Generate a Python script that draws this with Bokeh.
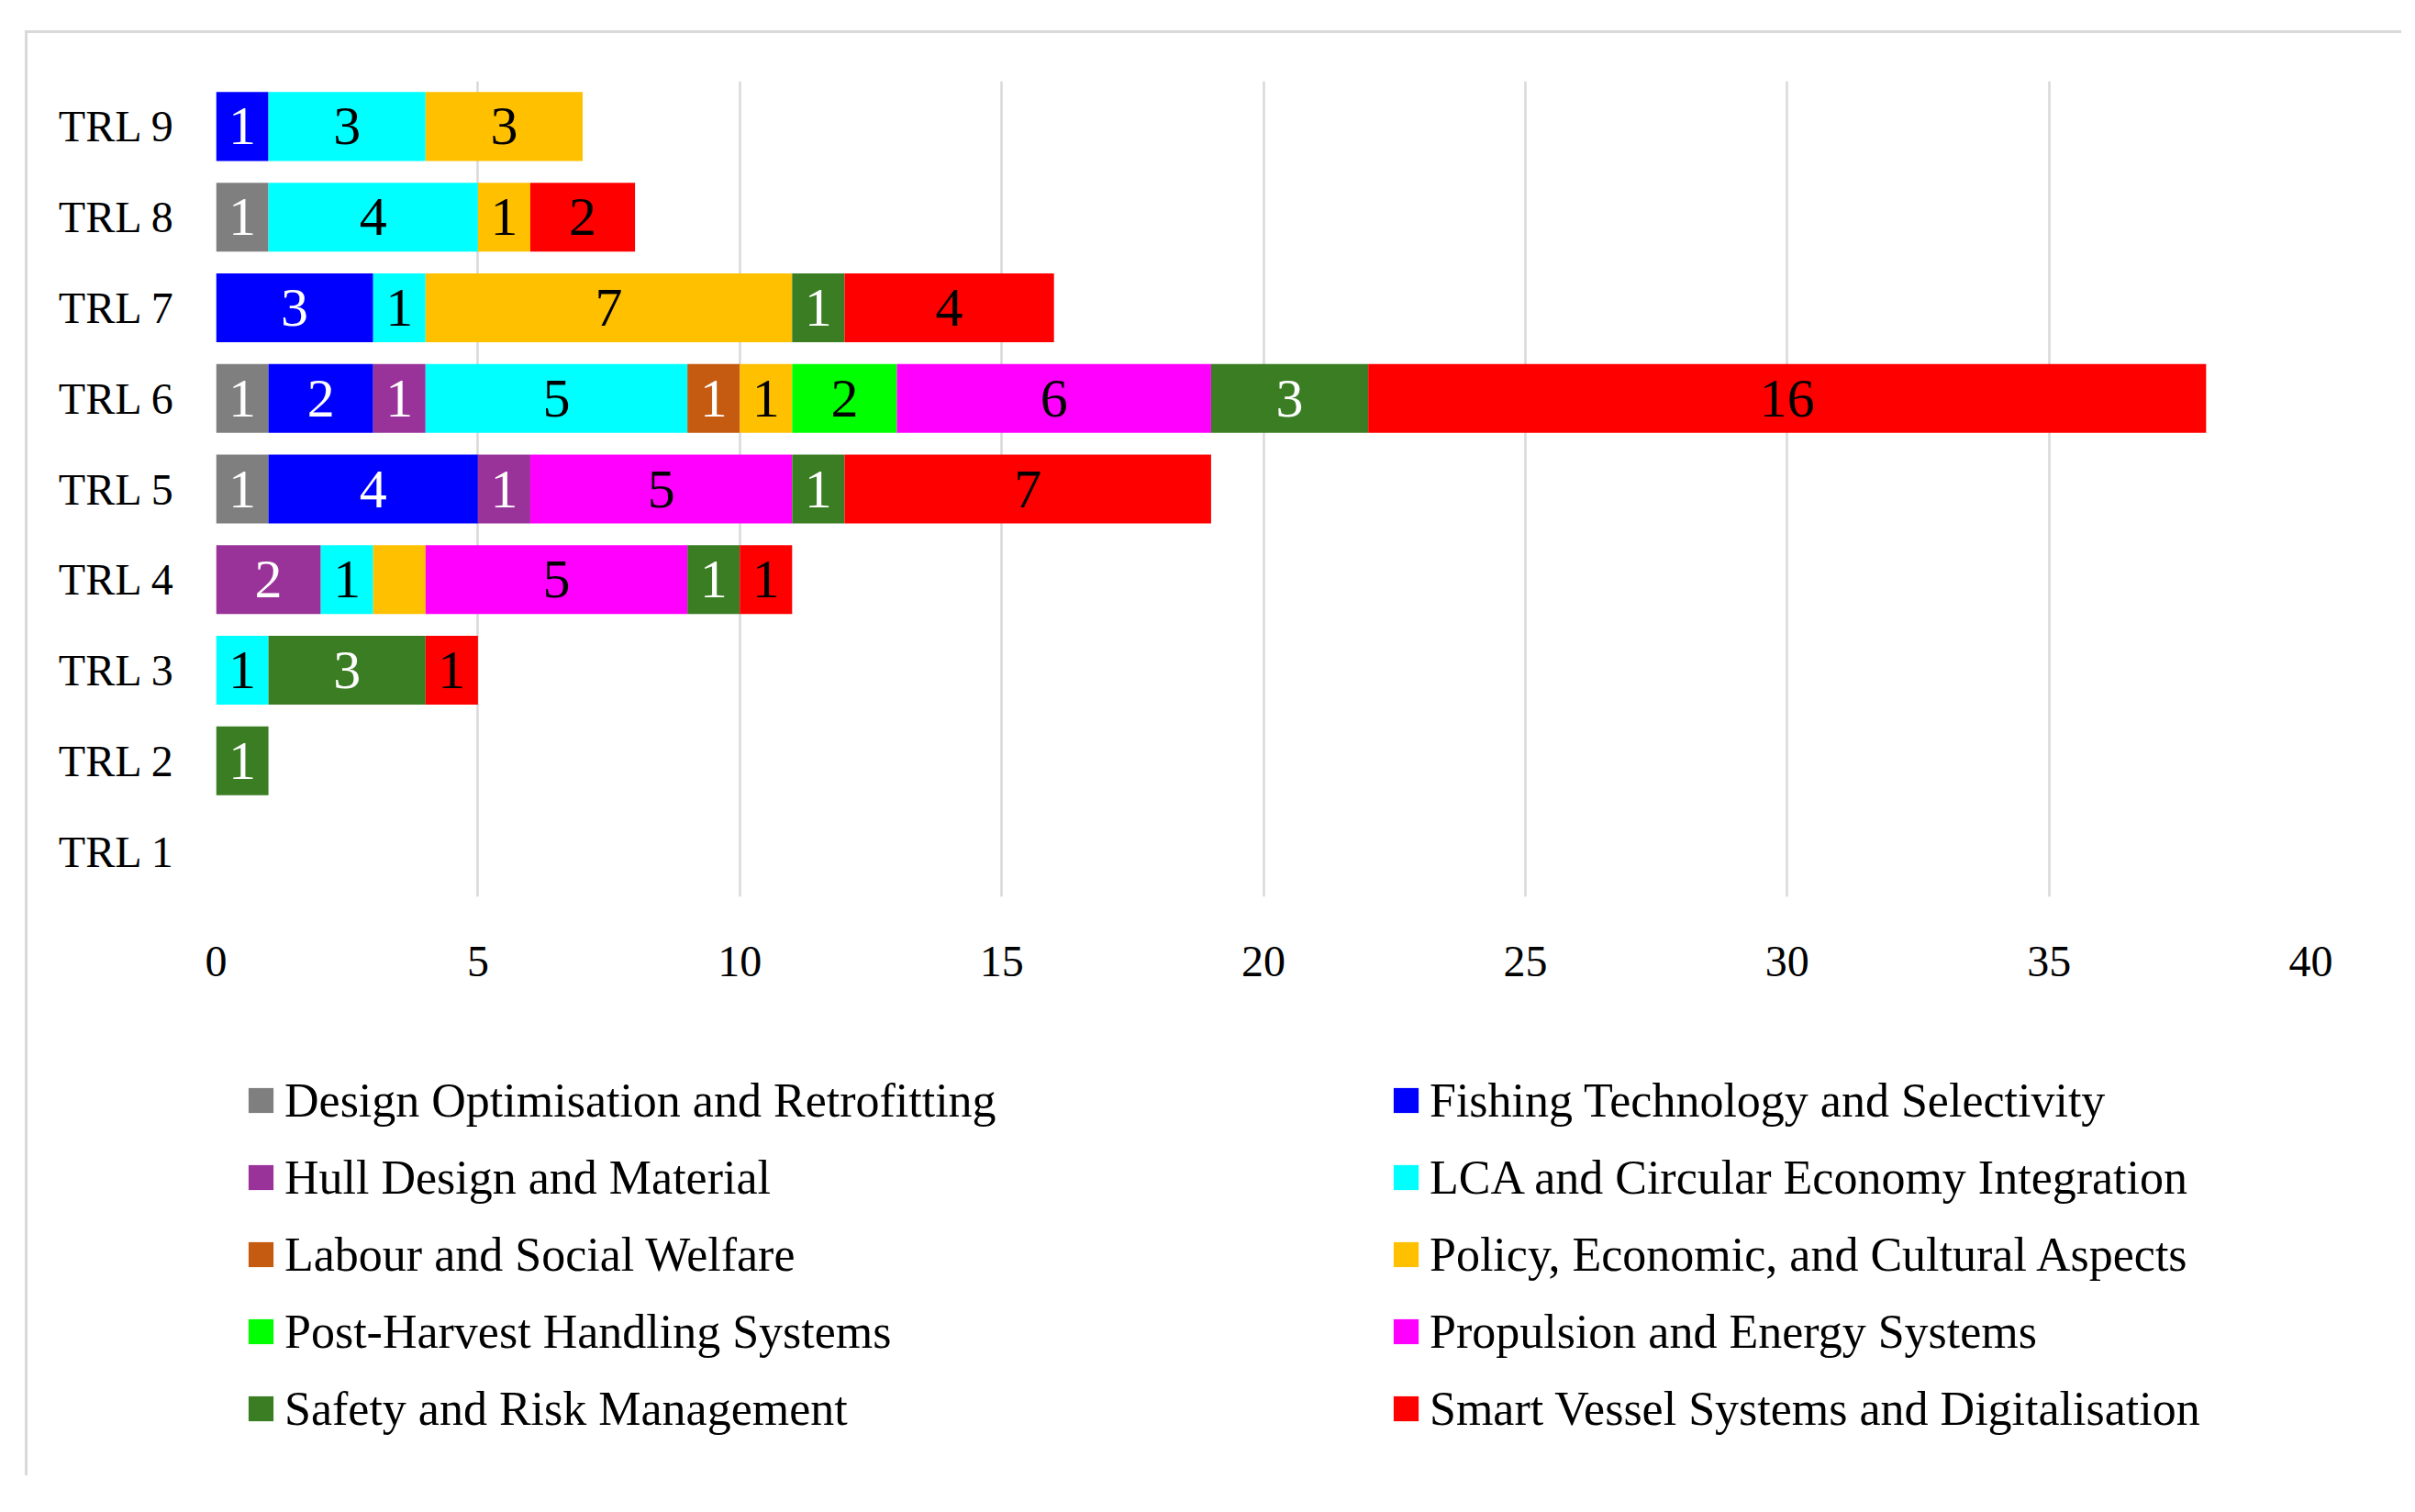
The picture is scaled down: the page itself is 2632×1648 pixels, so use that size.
from bokeh.plotting import figure
from bokeh.layouts import column
from bokeh.models import ColumnDataSource, FactorRange, Range1d, Legend, LegendItem, FixedTicker
from bokeh.core.properties import value
from bokeh.embed import file_html
from bokeh.resources import INLINE
import numpy as np

# ---------------- data ----------------
trl_levels = ["TRL 1", "TRL 2", "TRL 3", "TRL 4", "TRL 5", "TRL 6", "TRL 7", "TRL 8", "TRL 9"]

themes = [
    "Design Optimisation and Retrofitting",
    "Fishing Technology and Selectivity",
    "Hull Design and Material",
    "LCA and Circular Economy Integration",
    "Labour and Social Welfare",
    "Policy, Economic, and Cultural Aspects",
    "Post-Harvest Handling Systems",
    "Propulsion and Energy Systems",
    "Safety and Risk Management",
    "Smart Vessel Systems and Digitalisation",
]
theme_colors = ["#7F7F7F", "#0000FF", "#993399", "#00FFFF", "#C55A11",
                "#FFC000", "#00FF00", "#FF00FF", "#3B7D23", "#FF0000"]
label_colors = ["white", "white", "white", "black", "white",
                "black", "black", "black", "white", "black"]

# counts per theme, TRL 1 .. TRL 9
design      = [0, 0, 0, 0, 1, 1, 0, 1, 0]
fishing     = [0, 0, 0, 0, 4, 2, 3, 0, 1]
hull        = [0, 0, 0, 2, 1, 1, 0, 0, 0]
lca         = [0, 0, 1, 1, 0, 5, 1, 4, 3]
labour      = [0, 0, 0, 0, 0, 1, 0, 0, 0]
policy      = [0, 0, 0, 1, 0, 1, 7, 1, 3]
postharvest = [0, 0, 0, 0, 0, 2, 0, 0, 0]
propulsion  = [0, 0, 0, 5, 5, 6, 0, 0, 0]
safety      = [0, 1, 3, 1, 1, 3, 1, 0, 0]
smart       = [0, 0, 1, 1, 7, 16, 4, 2, 0]

series = [design, fishing, hull, lca, labour, policy, postharvest, propulsion, safety, smart]

# segments without a data label in the original
unlabelled = [("TRL 4", "Policy, Economic, and Cultural Aspects")]

x_ticks = [0, 5, 10, 15, 20, 25, 30, 35, 40]

FONT = "Liberation Serif"
BORDER = "3px solid #D9D9D9"
W = 2590

keys = [f"s{i}" for i in range(len(themes))]
data = {"trl": trl_levels}
for k, s in zip(keys, series):
    data[k] = s
src = ColumnDataSource(data)

# ---------------- chart ----------------
p = figure(width=W, height=1095,
           y_range=FactorRange(*trl_levels, range_padding=0),
           x_range=Range1d(0, 40),
           output_backend="svg", toolbar_location=None,
           min_border_left=205, min_border_right=102,
           min_border_top=52, min_border_bottom=154,
           styles={"border-top": BORDER, "border-left": BORDER})
p.outline_line_color = None

p.hbar_stack(keys, y="trl", height=0.76, color=theme_colors,
             line_color=None, source=src)

# data labels
lx, ly, lt, lc = [], [], [], []
cum = np.zeros(len(trl_levels))
for ti, (theme, s) in enumerate(zip(themes, series)):
    arr = np.array(s, dtype=float)
    for j, v in enumerate(arr):
        if v > 0 and (trl_levels[j], theme) not in unlabelled:
            lx.append(cum[j] + v / 2)
            ly.append(trl_levels[j])
            lt.append(str(int(v)))
            lc.append(label_colors[ti])
    cum += arr
lsrc = ColumnDataSource(dict(x=lx, y=ly, t=lt, c=lc))
p.text(x="x", y="y", text="t", text_color="c", source=lsrc,
       text_align="center", text_baseline="middle",
       text_font=value(FONT), text_font_size="60px")

# axes
p.xaxis.ticker = FixedTicker(ticks=x_ticks)
p.xgrid.ticker = FixedTicker(ticks=x_ticks)
p.xgrid.grid_line_color = "#D9D9D9"
p.xgrid.grid_line_width = 2.5
p.ygrid.grid_line_color = None
for ax in (p.xaxis[0], p.yaxis[0]):
    ax.axis_line_color = None
    ax.major_tick_line_color = None
    ax.minor_tick_line_color = None
    ax.major_label_text_font = FONT
    ax.major_label_text_color = "black"
p.xaxis.major_label_text_font_size = "48px"
p.yaxis.major_label_text_font_size = "48px"
p.xaxis.major_label_standoff = 48
p.yaxis.major_label_standoff = 39

# ---------------- legend panel ----------------
q = figure(width=W, height=480,
           y_range=FactorRange(*trl_levels, range_padding=0),
           x_range=Range1d(0, 40),
           output_backend="svg", toolbar_location=None,
           x_axis_location=None, y_axis_location=None,
           min_border_left=205, min_border_right=102,
           min_border_top=0, min_border_bottom=0,
           styles={"border-left": BORDER})
q.outline_line_color = None
q.grid.grid_line_color = None

# zero-height copies of the stacks: they only carry each theme's swatch into the legend
legend_renderers = q.hbar_stack(keys, y="trl", height=0, color=theme_colors,
                                line_color=None, source=src)

items = [LegendItem(label=t, renderers=[r]) for t, r in zip(themes, legend_renderers)]
legend = Legend(items=items, orientation="horizontal", ncols=2,
                location=(32, 41), padding=0, margin=0,
                border_line_color=None, background_fill_alpha=0,
                label_text_font=FONT, label_text_font_size="52px",
                label_text_color="black",
                glyph_width=34, glyph_height=34, label_standoff=9,
                label_width=1185, label_height=64, spacing=20)
q.add_layout(legend)

layout = column(p, q, margin=(33, 0, 0, 27))

open("out.html", "w").write(file_html(layout, INLINE))
